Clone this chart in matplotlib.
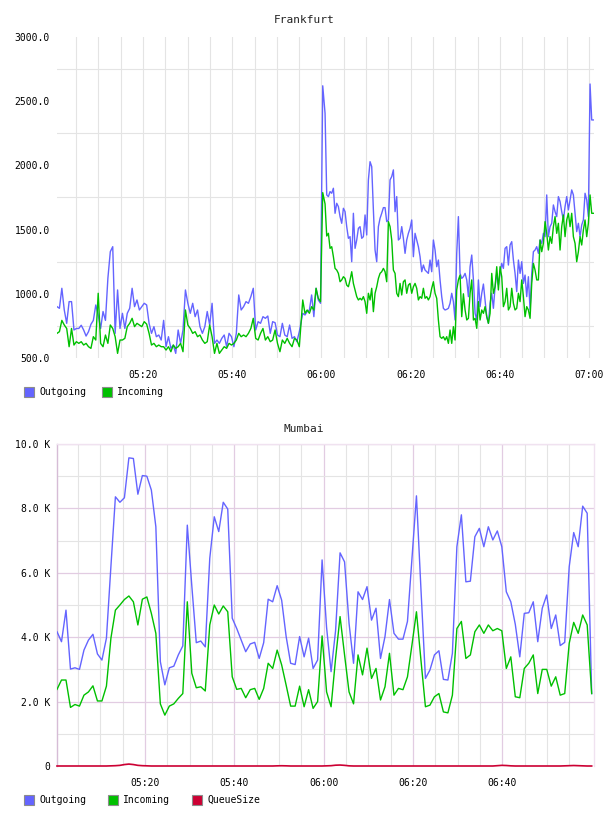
import numpy as np
import matplotlib
matplotlib.use("Agg")
import matplotlib.pyplot as plt
from matplotlib.patches import Rectangle
from matplotlib.ticker import FixedLocator, FuncFormatter

W, H = 608, 816
MONO = "DejaVu Sans Mono"
C_OUT = "#6464ff"
C_IN = "#00c000"
C_Q = "#cc0033"

# time axis: minutes after 05:00
# Frankfurt samples come in four runs (start, end, values)
fra_span_a = (0.72, 55.04)
fra_out_a = [900, 887, 1043, 874, 770, 939, 939, 718, 730, 730, 755, 718, 671, 705, 762, 793, 913,
             835, 730, 862, 793, 1121, 1328, 1367, 692, 1030, 730, 848, 730, 848, 887, 1043, 900,
             952, 874, 900, 926, 913, 770, 692, 744, 666, 679, 640, 793, 588, 666, 575, 601, 536,
             718, 614, 718, 1030, 926, 848, 926, 822, 874, 744, 692, 744, 862, 757, 926, 614, 640,
             614, 653, 679, 588, 692, 666, 588, 692, 991, 874, 900, 939, 926, 978, 1043, 718, 783,
             770, 822, 809, 827, 692, 783, 775, 679, 666, 770, 679, 666, 757, 653, 666, 627, 705]
fra_in_a = [692, 705, 793, 757, 730, 588, 730, 601, 627, 614, 627, 601, 614, 588, 575, 666, 640,
            1004, 614, 588, 679, 614, 757, 730, 666, 536, 640, 640, 653, 744, 770, 809, 744, 770,
            757, 744, 783, 764, 692, 601, 614, 588, 601, 588, 588, 562, 588, 549, 601, 575, 588,
            614, 549, 874, 757, 730, 692, 705, 666, 679, 640, 614, 627, 757, 666, 536, 614, 536,
            562, 588, 575, 614, 601, 614, 640, 692, 666, 679, 666, 692, 730, 809, 653, 640, 692,
            730, 640, 666, 627, 640, 718, 614, 549, 640, 614, 653, 614, 588, 653, 640, 588]

fra_span_b = (55.81, 60.29)
fra_out_b = [848, 835, 862, 874, 991, 822, 1043, 952, 926, 2620]
fra_in_b = [952, 848, 874, 848, 900, 874, 1043, 965, 939, 1788]

fra_span_c = (60.81, 91.82)
fra_out_c = [2406, 1770, 1757, 1796, 1783, 1822, 1627, 1705, 1679, 1601, 1549, 1666, 1640, 1523,
             1432, 1445, 1250, 1627, 1354, 1419, 1510, 1523, 1432, 1445, 1614, 1458, 1887, 2029,
             1990, 1653, 1341, 1250, 1523, 1588, 1627, 1671, 1671, 1562, 1575, 1887, 1913, 1965,
             1640, 1757, 1419, 1432, 1523, 1432, 1315, 1419, 1471, 1510, 1575, 1289, 1471, 1419,
             1367, 1289, 1172, 1224, 1185, 1172, 1159, 1263, 1172, 1419, 1341, 1211, 1263, 1108,
             978, 887, 874, 879, 887, 926, 1004, 939, 796, 1315, 1601, 1159, 1120, 1133]
fra_in_c = [1700, 1450, 1471, 1354, 1367, 1289, 1198, 1185, 1159, 1094, 1108, 1133, 1120, 1068,
            1055, 1108, 1172, 1081, 1030, 978, 952, 965, 952, 978, 939, 848, 1004, 952, 1043, 861,
            1004, 1055, 1120, 1159, 1172, 1198, 1172, 1094, 1562, 1523, 1419, 1185, 1159, 1004,
            978, 1081, 991, 1094, 1108, 1004, 1068, 1081, 1004, 1055, 1081, 1043, 952, 978, 965,
            1043, 965, 978, 952, 978, 1043, 1094, 1004, 965, 796, 666, 653, 666, 640, 666, 614,
            718, 614, 744, 640, 1030, 1108, 1146, 822, 1000]

fra_span_d = (92.20, 120.96)
fra_out_d = [1159, 1108, 978, 1211, 1302, 1108, 848, 796, 1108, 900, 1004, 1076, 952, 822, 770,
             926, 1004, 887, 1055, 1159, 1068, 1159, 1237, 1198, 1354, 1367, 1224, 1380, 1406,
             1263, 1159, 1017, 1263, 1159, 1250, 1081, 1146, 978, 1133, 874, 1159, 1328, 1341,
             1367, 1315, 1419, 1393, 1471, 1445, 1770, 1445, 1523, 1549, 1692, 1640, 1601, 1757,
             1718, 1640, 1575, 1679, 1757, 1653, 1731, 1809, 1770, 1627, 1484, 1549, 1445, 1536,
             1575, 1783, 1731, 1601, 2634, 2354, 2354]
fra_in_d = [874, 796, 809, 1004, 1108, 796, 809, 731, 939, 796, 874, 848, 900, 822, 770, 848, 1159,
            1004, 1055, 1211, 1030, 1211, 1133, 900, 939, 1043, 874, 900, 1043, 926, 874, 887,
            1004, 939, 1108, 978, 822, 900, 874, 809, 1081, 1237, 1185, 1108, 1108, 1419, 1328,
            1393, 1562, 1471, 1341, 1445, 1393, 1523, 1601, 1471, 1549, 1341, 1523, 1614, 1445,
            1575, 1627, 1523, 1627, 1445, 1393, 1250, 1328, 1445, 1380, 1497, 1575, 1445, 1549,
            1770, 1627, 1627]

# Mumbai: one sample per minute
mum_span = (0.29, 120.04)
mum_out = [4170, 3860, 4840, 3010, 3050, 3000, 3600, 3910, 4090, 3480, 3290, 3970, 6200, 8360, 8190,
           8330, 9570, 9550, 8440, 9020, 9000, 8570, 7430, 3240, 2520, 3050, 3100, 3450, 3730, 7480,
           5600, 3830, 3880, 3700, 6450, 7740, 7280, 8190, 7980, 4590, 4270, 3910, 3550, 3790, 3840,
           3340, 3830, 5180, 5100, 5600, 5150, 4020, 3190, 3150, 4020,
           3390, 3970, 3030, 3290, 6400, 4300, 2930, 4200, 6620, 6340, 4430, 3190, 5410, 5170, 5570,
           4530, 4900, 3340, 4020, 5170, 4120, 3940, 3940, 4490, 6440, 8390, 5500, 2720, 2980, 3450,
           3580, 2690, 2670, 3500, 6810, 7800, 5720, 5740, 7120, 7380, 6810, 7430, 7020, 7300, 6810,
           5410, 5100, 4400, 3390, 4740, 4760, 5100, 3860, 4900, 5310, 4270, 4690, 3740, 3840, 6190,
           7250, 6810, 8070, 7850, 2250]
mum_in = [2380, 2670, 2670, 1820, 1910, 1860, 2200, 2300, 2490, 2020, 2020, 2480, 3970, 4840, 5000,
          5170, 5280, 5100, 4380, 5180, 5250, 4740, 4120, 1930, 1580, 1860, 1930, 2100, 2250, 5100,
          2880, 2430, 2460, 2330, 4380, 5000, 4720, 4970, 4790, 2770, 2380, 2410, 2120, 2370, 2410,
          2070, 2410, 3190, 3030, 3600, 3140, 2510, 1860, 1860, 2480,
          1840, 2370, 1790, 2000, 4040, 2300, 1840, 3340, 4640, 3450, 2300, 1930, 3450, 2830, 3660,
          2720, 3030, 2050, 2460, 3500, 2200, 2410, 2370, 2770, 3760, 4790, 3290, 1840, 1890, 2150,
          2250, 1680, 1650, 2200, 4270, 4490, 3340, 3450, 4170, 4380, 4120, 4380, 4200, 4270, 4200,
          3030, 3390, 2150, 2120, 3030, 3190, 3450, 2250, 3000, 3000, 2480, 2770, 2200, 2250, 3810,
          4460, 4120, 4690, 4380, 2250]
mum_queue = [0, 0, 0, 0, 0, 0, 0, 0, 0, 0, 0, 0, 5, 10, 20, 45, 60, 45, 20, 10, 5, 0, 0, 0, 0, 0, 0,
             0, 0, 0, 0, 0, 0, 0, 0, 0, 0, 0, 0, 0, 0, 0, 0, 0, 0, 0, 0, 0, 0, 5, 8, 5, 0, 0, 0,
             0, 0, 0, 0, 0, 5, 10, 25, 30, 20, 5, 0, 0, 0, 0, 0, 0, 0, 0, 0, 0, 0, 0, 0, 0, 0, 0,
             0, 0, 0, 0, 0, 0, 0, 0, 0, 0, 0, 0, 0, 0, 0, 0, 10, 20, 15, 5, 0, 0, 0, 0, 0, 0, 0,
             0, 0, 0, 0, 5, 10, 15, 10, 5, 0, 0]


def hhmm(m, _pos=None):
    m = int(round(m))
    return f"{5 + m // 60:02d}:{m % 60:02d}"


def run(span, vals):
    return np.linspace(span[0], span[1], len(vals))


def px_axes(left, top, right, bottom):
    return fig.add_axes([left / W, 1 - bottom / H, (right - left) / W, (bottom - top) / H])


def legend_item(x, yc, color, label):
    fig.add_artist(Rectangle((x / W, 1 - (yc + 5) / H), 10 / W, 10 / H, transform=fig.transFigure,
                             facecolor=color, edgecolor="#8c8c8c", lw=0.8))
    fig.text((x + 15) / W, 1 - yc / H, label, ha="left", va="center", fontsize=7, family=MONO)


fig = plt.figure(figsize=(W / 100, H / 100), dpi=100)

# ---- Frankfurt
ax = px_axes(57, 37, 594, 358)
fra_t_out = np.concatenate([run(fra_span_a, fra_out_a), run(fra_span_b, fra_out_b),
                            run(fra_span_c, fra_out_c), run(fra_span_d, fra_out_d)])
fra_t_in = np.concatenate([run(fra_span_a, fra_in_a), run(fra_span_b, fra_in_b),
                           run(fra_span_c, fra_in_c), run(fra_span_d, fra_in_d)])
ax.plot(fra_t_out, fra_out_a + fra_out_b + fra_out_c + fra_out_d, color=C_OUT, lw=1.0, zorder=3)
ax.plot(fra_t_in, fra_in_a + fra_in_b + fra_in_c + fra_in_d, color=C_IN, lw=1.0, zorder=3)
ax.set_xlim(0.72, 121.1)
ax.set_ylim(500, 3000)
ax.xaxis.set_major_locator(FixedLocator([20, 40, 60, 80, 100, 120]))
ax.xaxis.set_minor_locator(FixedLocator(np.arange(5, 121, 5)))
ax.xaxis.set_major_formatter(FuncFormatter(hhmm))
ax.yaxis.set_major_locator(FixedLocator(np.arange(500, 3001, 500)))
ax.yaxis.set_minor_locator(FixedLocator(np.arange(750, 3000, 500)))
ax.yaxis.set_major_formatter(FuncFormatter(lambda v, p: f"{v:.1f}"))
ax.grid(True, axis="x", which="both", color="#e4e4e4", lw=0.8)
ax.grid(True, axis="y", which="minor", color="#e4e4e4", lw=0.8)
ax.set_axisbelow(True)
for s in ax.spines.values():
    s.set_visible(False)
ax.tick_params(which="both", length=0, labelsize=7)
ax.tick_params(axis="x", pad=8.6)
ax.tick_params(axis="y", pad=5)
for lab in ax.get_xticklabels() + ax.get_yticklabels():
    lab.set_family(MONO)
fig.text(0.5, 1 - 20 / H, "Frankfurt", ha="center", va="center", fontsize=8, family=MONO, color="#222222")
legend_item(24, 392, C_OUT, "Outgoing")
legend_item(102, 392, C_IN, "Incoming")

# ---- Mumbai
ax2 = px_axes(57, 444, 594, 766)
mum_t = run(mum_span, mum_out)
ax2.plot(mum_t, mum_out, color=C_OUT, lw=1.0, zorder=3)
ax2.plot(mum_t, mum_in, color=C_IN, lw=1.0, zorder=3)
ax2.plot(mum_t, mum_queue, color=C_Q, lw=1.2, zorder=4, clip_on=False)
ax2.set_xlim(0.29, 120.56)
ax2.set_ylim(0, 10000)
ax2.xaxis.set_major_locator(FixedLocator([20, 40, 60, 80, 100]))
ax2.xaxis.set_minor_locator(FixedLocator([m for m in range(5, 120, 5) if m % 20]))
ax2.xaxis.set_major_formatter(FuncFormatter(hhmm))
ax2.yaxis.set_major_locator(FixedLocator(np.arange(0, 10001, 2000)))
ax2.yaxis.set_minor_locator(FixedLocator(np.arange(1000, 10000, 2000)))
ax2.yaxis.set_major_formatter(FuncFormatter(lambda v, p: "0" if v == 0 else f"{v / 1000:.1f} K"))
ax2.grid(True, which="major", color="#e2cce2", lw=0.9)
ax2.grid(True, which="minor", color="#e4e4e4", lw=0.8)
ax2.set_axisbelow(True)
ax2.spines["left"].set_color("#d6bcd6")
ax2.spines["top"].set_color("#f0e2f0")
ax2.spines["right"].set_color("#f0e2f0")
ax2.spines["bottom"].set_visible(False)
for s in ax2.spines.values():
    s.set_linewidth(1.0)
ax2.tick_params(which="both", length=0, labelsize=7)
ax2.tick_params(axis="x", pad=8.6)
ax2.tick_params(axis="y", pad=5)
for lab in ax2.get_xticklabels() + ax2.get_yticklabels():
    lab.set_family(MONO)
fig.text(0.5, 1 - 429 / H, "Mumbai", ha="center", va="center", fontsize=8, family=MONO, color="#222222")
legend_item(24, 800, C_OUT, "Outgoing")
legend_item(108, 800, C_IN, "Incoming")
legend_item(192, 800, C_Q, "QueueSize")

fig.savefig("out.png", dpi=100)
